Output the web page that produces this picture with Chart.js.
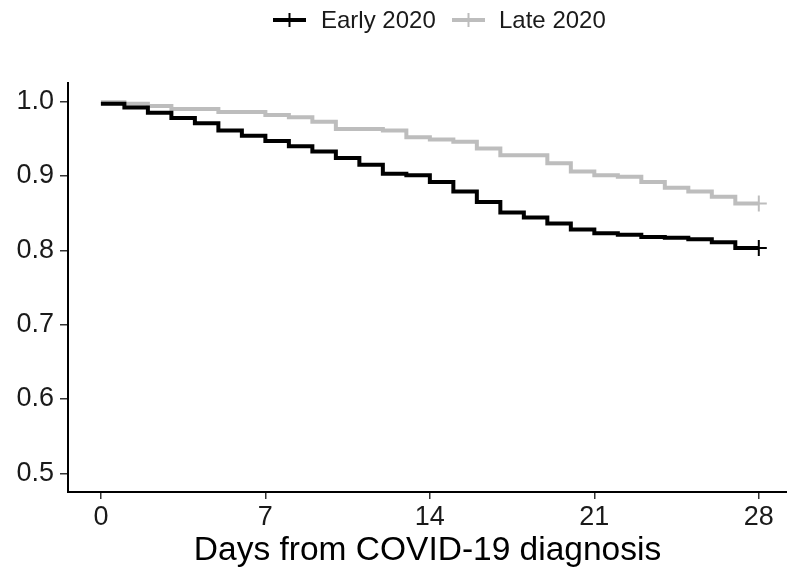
<!DOCTYPE html>
<html>
<head>
<meta charset="utf-8">
<script src="https://cdn.jsdelivr.net/npm/chart.js@4/dist/chart.umd.min.js"></script>
<style>
  html, body { margin: 0; padding: 0; background: #ffffff; overflow: hidden; }
  #wrap { width: 787px; height: 571px; position: relative; }
  #km { display: block; }
</style>
</head>
<body>
<div id="wrap"><canvas id="km"></canvas></div>
<script>
// Kaplan-Meier survival by day since diagnosis
const days = [0, 1, 2, 3, 4, 5, 6, 7, 8, 9, 10, 11, 12, 13, 14, 15, 16, 17, 18, 19, 20, 21, 22, 23, 24, 25, 26, 27, 28];
const early2020 = [0.997, 0.992, 0.985, 0.978, 0.971, 0.961, 0.954, 0.947, 0.940, 0.933, 0.924, 0.915, 0.903, 0.901, 0.892,
                   0.879, 0.865, 0.851, 0.844, 0.836, 0.828, 0.823, 0.821, 0.818, 0.817, 0.815, 0.811, 0.803, 0.803];
const late2020  = [0.999, 0.997, 0.994, 0.990, 0.990, 0.986, 0.986, 0.982, 0.979, 0.973, 0.963, 0.963, 0.961, 0.952, 0.949,
                   0.946, 0.937, 0.928, 0.928, 0.917, 0.906, 0.901, 0.899, 0.892, 0.884, 0.879, 0.872, 0.863, 0.863];
const seriesNames = ['Early 2020', 'Late 2020'];
const seriesColors = ['#000000', '#bdbdbd'];
const xTicks = [0, 7, 14, 21, 28];
const yTicks = [0.5, 0.6, 0.7, 0.8, 0.9, 1.0];
const xTitle = 'Days from COVID-19 diagnosis';

const FONT = '"Liberation Sans", Arial, Helvetica, sans-serif';

function toPoints(vals) {
  return days.map((d, i) => ({ x: d, y: vals[i] }));
}
// censor mark only at the final day
function censorRadius(vals) {
  return vals.map((v, i) => (i === vals.length - 1 ? 8 : 0));
}

const legendPlugin = {
  id: 'topLegend',
  afterDraw(chart) {
    const ctx = chart.ctx;
    ctx.save();
    ctx.font = '24px ' + FONT;
    ctx.textBaseline = 'middle';
    const y = 20;
    const items = [
      { x0: 273, x1: 306, tx: 321 },
      { x0: 452, x1: 485, tx: 499 }
    ];
    items.forEach((it, i) => {
      ctx.strokeStyle = seriesColors[i];
      ctx.lineWidth = 4;
      ctx.beginPath();
      ctx.moveTo(it.x0, y);
      ctx.lineTo(it.x1, y);
      ctx.stroke();
      ctx.lineWidth = 2;
      const cx = (it.x0 + it.x1) / 2;
      ctx.beginPath();
      ctx.moveTo(cx, y - 7);
      ctx.lineTo(cx, y + 7);
      ctx.stroke();
      ctx.fillStyle = '#1a1a1a';
      ctx.fillText(seriesNames[i], it.tx, y + 1);
    });
    ctx.restore();
  }
};

new Chart(document.getElementById('km'), {
  type: 'line',
  data: {
    datasets: [
      {
        label: seriesNames[0],
        data: toPoints(early2020),
        borderColor: seriesColors[0],
        backgroundColor: seriesColors[0],
        borderWidth: 4,
        stepped: 'before',
        pointStyle: 'cross',
        pointRadius: censorRadius(early2020),
        pointBorderWidth: 2,
        pointHoverRadius: 0,
        fill: false,
        clip: false
      },
      {
        label: seriesNames[1],
        data: toPoints(late2020),
        borderColor: seriesColors[1],
        backgroundColor: seriesColors[1],
        borderWidth: 4,
        stepped: 'before',
        pointStyle: 'cross',
        pointRadius: censorRadius(late2020),
        pointBorderWidth: 2,
        pointHoverRadius: 0,
        fill: false,
        clip: false
      }
    ]
  },
  options: {
    responsive: true,
    maintainAspectRatio: false,
    animation: false,
    events: [],
    layout: { autoPadding: false, padding: { top: 83, right: 0, bottom: 0, left: 0 } },
    plugins: {
      legend: { display: false },
      tooltip: { enabled: false }
    },
    scales: {
      x: {
        type: 'linear',
        min: -1.4,
        max: 29.2,
        afterBuildTicks(scale) { scale.ticks = xTicks.map(v => ({ value: v })); },
        afterFit(scale) { scale.height = 79; scale.paddingLeft = 0; scale.paddingRight = 0; },
        border: { display: true, color: '#000000', width: 2 },
        grid: { display: true, drawOnChartArea: false, drawTicks: true, tickLength: 7, color: '#333333', lineWidth: 1.5 },
        ticks: { color: '#1a1a1a', font: { family: FONT, size: 27 }, padding: 2, maxRotation: 0, autoSkip: false },
        title: { display: true, text: xTitle, color: '#000000', font: { family: FONT, size: 33.5 }, padding: { top: 0, bottom: 0 } }
      },
      y: {
        type: 'linear',
        min: 0.475,
        max: 1.025,
        afterBuildTicks(scale) { scale.ticks = yTicks.map(v => ({ value: v })); },
        afterFit(scale) { scale.width = 68; },
        border: { display: true, color: '#000000', width: 2 },
        grid: { display: true, drawOnChartArea: false, drawTicks: true, tickLength: 8, color: '#333333', lineWidth: 1.5 },
        ticks: { color: '#1a1a1a', font: { family: FONT, size: 27 }, padding: 6, callback: v => v.toFixed(1) }
      }
    }
  },
  plugins: [legendPlugin]
});
</script>
</body>
</html>
